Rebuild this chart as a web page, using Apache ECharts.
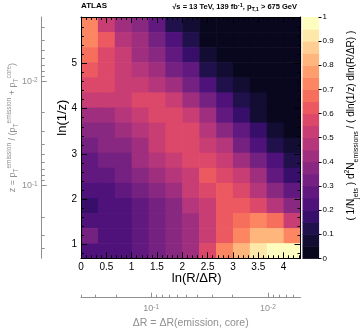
<!DOCTYPE html>
<html><head><meta charset="utf-8">
<script src="https://cdn.jsdelivr.net/npm/echarts@6.0.0/dist/echarts.min.js"></script>
<style>html,body{margin:0;padding:0;background:#fff;}#chart{width:362px;height:328px;}</style>
</head><body><div id="chart"></div>
<script>
// ---- data ----
// ln(R/ΔR) bin edges (13 bins)
const lnRdREdges = [0, 0.3333, 0.6667, 1.0, 1.3333, 1.6667, 2.0, 2.3333, 2.6667, 3.0, 3.3333, 3.6667, 4.0, 4.3333];
// ln(1/z) bin edges (16 bins), from ln 2 upwards
const ln1zEdges = [0.6931, 1.0265, 1.3598, 1.6931, 2.0265, 2.3598, 2.6931, 3.0265, 3.3598, 3.6931, 4.0265, 4.3598, 4.6931, 5.0265, 5.3598, 5.6931, 6.0265];
// normalised emission density, one row per ln(1/z) bin, TOP row (highest ln(1/z)) first,
// columns follow lnRdREdges
const densityRows = [
  [0.72,0.52,0.43,0.36,0.26,0.12,0.06,0.02,0.02,0.02,0.02,0.02,0.02],
  [0.72,0.60,0.48,0.40,0.30,0.20,0.12,0.03,0.02,0.02,0.02,0.02,0.02],
  [0.66,0.59,0.51,0.44,0.36,0.25,0.15,0.06,0.03,0.02,0.02,0.02,0.02],
  [0.60,0.56,0.52,0.47,0.40,0.32,0.26,0.10,0.07,0.02,0.02,0.02,0.02],
  [0.55,0.55,0.53,0.50,0.45,0.40,0.33,0.24,0.12,0.06,0.02,0.02,0.02],
  [0.50,0.50,0.52,0.55,0.58,0.53,0.42,0.30,0.20,0.12,0.06,0.02,0.02],
  [0.40,0.44,0.47,0.52,0.56,0.58,0.50,0.40,0.28,0.16,0.08,0.03,0.02],
  [0.36,0.39,0.43,0.48,0.54,0.58,0.58,0.45,0.38,0.25,0.15,0.08,0.04],
  [0.32,0.35,0.39,0.44,0.51,0.57,0.59,0.53,0.45,0.33,0.22,0.12,0.06],
  [0.28,0.31,0.34,0.40,0.47,0.53,0.57,0.59,0.53,0.42,0.30,0.20,0.10],
  [0.26,0.28,0.31,0.37,0.43,0.48,0.54,0.60,0.59,0.50,0.40,0.28,0.18],
  [0.22,0.24,0.27,0.32,0.38,0.43,0.50,0.57,0.62,0.58,0.49,0.38,0.25],
  [0.19,0.21,0.24,0.29,0.34,0.39,0.46,0.53,0.60,0.64,0.59,0.48,0.35],
  [0.22,0.21,0.22,0.26,0.32,0.37,0.43,0.52,0.60,0.68,0.72,0.66,0.50],
  [0.30,0.23,0.22,0.25,0.30,0.35,0.42,0.52,0.62,0.72,0.80,0.82,0.70],
  [0.21,0.21,0.22,0.25,0.30,0.35,0.42,0.56,0.70,0.84,0.90,0.97,0.98]
];
const xTickLabels = [0, 0.5, 1, 1.5, 2, 2.5, 3, 3.5, 4];
const yTickLabels = [1, 2, 3, 4, 5];
const colorbarLevels = [0,0.05,0.1,0.15,0.2,0.25,0.3,0.35,0.4,0.45,0.5,0.55,0.6,0.65,0.7,0.75,0.8,0.85,0.9,0.95,1];
const colorbarTicks = [0,0.1,0.2,0.3,0.4,0.5,0.6,0.7,0.8,0.9,1];
const zMajorTicks = [0.1, 0.01];
const zMinorTicks = [0.4,0.3,0.2,0.09,0.08,0.07,0.06,0.05,0.04,0.03,0.02,0.009,0.008,0.007,0.006,0.005,0.004,0.003];
const dRMajorTicks = [0.1, 0.01];
const dRMinorTicks = [0.4,0.3,0.2,0.09,0.08,0.07,0.06,0.05,0.04,0.03,0.02,0.009,0.008,0.007,0.006];
const jetRadius = 0.4;

// ---- styling helpers ----
const FONT = 'Liberation Sans, Arial, Helvetica, sans-serif';
const GRAY = '#8f8f8f';
const magmaStops = ['#000004','#0b0924','#150e37','#221150','#3b0f70','#51127c','#641a80','#782281','#8c2981','#a1307e','#b73779','#ca3e72','#de4968','#ed5a5f','#f7705c','#fc8761','#fe9f6d','#feb77e','#fecf92','#fde7a9','#fcfdbf'];
function hex2rgb(h){return [parseInt(h.substr(1,2),16),parseInt(h.substr(3,2),16),parseInt(h.substr(5,2),16)];}
function magma(t){
  const f = Math.max(0, Math.min(1, t)) * 20; const i = Math.min(19, Math.floor(f)); const u = f - i;
  const a = hex2rgb(magmaStops[i]), b = hex2rgb(magmaStops[i+1]);
  return 'rgb(' + a.map((c,k)=>Math.round(c + (b[k]-c)*u)).join(',') + ')';
}
const pieces = [];
for (let k = 0; k < colorbarLevels.length - 1; k++) {
  const p = {gte: colorbarLevels[k], color: magma(0.04 + 0.96 * k / (colorbarLevels.length - 2))};
  if (k === colorbarLevels.length - 2) p.lte = colorbarLevels[k+1]; else p.lt = colorbarLevels[k+1];
  pieces.push(p);
}

const xMin = lnRdREdges[0], xMax = lnRdREdges[lnRdREdges.length-1];
const yMin = ln1zEdges[0], yMax = ln1zEdges[ln1zEdges.length-1];
const xMinor = [], yMinor = [];
for (let k = 1; k * 0.1 < xMax; k++) { if (k % 5) xMinor.push(+(k*0.1).toFixed(2)); }
for (let k = 4; k * 0.2 < yMax; k++) { if (k % 5) yMinor.push(+(k*0.2).toFixed(2)); }
const zPos = z => Math.log(1 / z);
const dRPos = d => Math.log(jetRadius / d);

// cells
const cells = [];
densityRows.forEach((row, r) => {
  const yi = ln1zEdges.length - 2 - r;
  row.forEach((v, c) => cells.push([lnRdREdges[c], lnRdREdges[c+1], ln1zEdges[yi], ln1zEdges[yi+1], v]));
});
const bar = [];
for (let k = 0; k < colorbarLevels.length - 1; k++) {
  bar.push([0, 1, colorbarLevels[k], colorbarLevels[k+1], (colorbarLevels[k] + colorbarLevels[k+1]) / 2]);
}
function renderCell(params, api) {
  const p0 = api.coord([api.value(0), api.value(3)]);
  const p1 = api.coord([api.value(1), api.value(2)]);
  return {type: 'rect', shape: {x: p0[0], y: p0[1], width: p1[0]-p0[0] + 0.6, height: p1[1]-p0[1] + 0.6},
          style: {fill: api.visual('color')}};
}
function expLabel(v) {
  const e = Math.round(Math.log10(Math.exp(-v)));
  return '10{s|' + e + '}';
}
const supRich = {s: {fontSize: 6.5, lineHeight: 7, verticalAlign: 'top', color: GRAY, fontFamily: FONT}};

const noSplit = {show: false};
function tickAxis(base, extra) { return Object.assign({type: 'value', z: 10, splitLine: noSplit, nameMoveOverlap: false}, base, extra); }

const gridMain = {left: 81, top: 17, width: 219.5, height: 241.3, containLabel: false, outerBoundsMode: 'none'};
const gridBar = {left: 302.5, top: 17, width: 16, height: 241.3, containLabel: false, outerBoundsMode: 'none'};
const xBase = {gridIndex: 0, min: xMin, max: xMax};
const yBase = {gridIndex: 0, min: yMin, max: yMax};

const option = {
  animation: false,
  title: [
    {text: 'ATLAS', left: 81, top: 2, padding: 0, textStyle: {fontSize: 8, fontWeight: 'bold', color: '#000', fontFamily: FONT}},
    {text: '√s = 13 TeV, 139 fb{sup|-1}, p{sub|T,1} > 675 GeV', right: 65, top: 2, padding: 0,
     textStyle: {fontSize: 7.5, color: '#000', fontFamily: FONT, lineHeight: 10,
       rich: {sup: {fontSize: 5.5, lineHeight: 5, verticalAlign: 'top'}, sub: {fontSize: 5.5, lineHeight: 5, verticalAlign: 'bottom'}}}}
  ],
  grid: [gridMain, gridBar],
  visualMap: [{type: 'piecewise', show: false, dimension: 4, seriesIndex: [0, 1], pieces: pieces}],
  xAxis: [
    tickAxis(xBase, {position: 'bottom', axisLine: {show: true, onZero: false, lineStyle: {color: '#000', width: 1}},
      axisTick: {show: true, inside: true, length: 6, customValues: xTickLabels, lineStyle: {color: '#000'}},
      axisLabel: {show: true, customValues: xTickLabels, margin: 4, fontSize: 10, color: '#000', fontFamily: FONT},
      name: 'ln(R/ΔR)', nameLocation: 'middle', nameGap: 14,
      nameTextStyle: {fontSize: 13, color: '#000', fontFamily: FONT, padding: [0, 0, 0, 12]}}),
    tickAxis(xBase, {position: 'bottom', axisLine: {show: false, onZero: false},
      axisTick: {show: true, inside: true, length: 3, customValues: xMinor, lineStyle: {color: '#000'}}, axisLabel: {show: false}}),
    tickAxis(xBase, {position: 'top', axisLine: {show: true, onZero: false, lineStyle: {color: '#000'}},
      axisTick: {show: true, inside: true, length: 6, customValues: xTickLabels, lineStyle: {color: '#000'}}, axisLabel: {show: false}}),
    tickAxis(xBase, {position: 'top', axisLine: {show: false, onZero: false},
      axisTick: {show: true, inside: true, length: 3, customValues: xMinor, lineStyle: {color: '#000'}}, axisLabel: {show: false}}),
    tickAxis(xBase, {position: 'bottom', offset: 39.4, axisLine: {show: true, onZero: false, lineStyle: {color: GRAY}},
      axisTick: {show: true, inside: true, length: 5, customValues: dRMajorTicks.map(dRPos), lineStyle: {color: GRAY}},
      axisLabel: {show: true, customValues: dRMajorTicks.map(dRPos), margin: 6, fontSize: 9, color: GRAY, fontFamily: FONT,
        formatter: v => '10{s|' + Math.round(Math.log10(jetRadius * Math.exp(-v))) + '}', rich: supRich},
      name: 'ΔR = ΔR(emission, core)', nameLocation: 'middle', nameGap: 20,
      nameTextStyle: {fontSize: 10.5, color: GRAY, fontFamily: FONT}}),
    tickAxis(xBase, {position: 'bottom', offset: 39.4, axisLine: {show: false, onZero: false},
      axisTick: {show: true, inside: true, length: 3, customValues: dRMinorTicks.map(dRPos), lineStyle: {color: GRAY}}, axisLabel: {show: false}}),
    {type: 'value', gridIndex: 1, min: 0, max: 1, show: false}
  ],
  yAxis: [
    tickAxis(yBase, {position: 'left', axisLine: {show: true, onZero: false, lineStyle: {color: '#000'}},
      axisTick: {show: true, inside: true, length: 6, customValues: yTickLabels, lineStyle: {color: '#000'}},
      axisLabel: {show: true, customValues: yTickLabels, margin: 4, fontSize: 10, color: '#000', fontFamily: FONT},
      name: 'ln(1/z)', nameLocation: 'middle', nameRotate: 90, nameGap: 12,
      nameTextStyle: {fontSize: 13, color: '#000', fontFamily: FONT, padding: [0, 0, 0, 40]}}),
    tickAxis(yBase, {position: 'left', axisLine: {show: false, onZero: false},
      axisTick: {show: true, inside: true, length: 3, customValues: yMinor, lineStyle: {color: '#000'}}, axisLabel: {show: false}}),
    tickAxis(yBase, {position: 'right', axisLine: {show: true, onZero: false, lineStyle: {color: '#000'}},
      axisTick: {show: true, inside: true, length: 6, customValues: yTickLabels, lineStyle: {color: '#000'}}, axisLabel: {show: false}}),
    tickAxis(yBase, {position: 'right', axisLine: {show: false, onZero: false},
      axisTick: {show: true, inside: true, length: 3, customValues: yMinor, lineStyle: {color: '#000'}}, axisLabel: {show: false}}),
    tickAxis(yBase, {position: 'left', offset: 39.3, axisLine: {show: true, onZero: false, lineStyle: {color: GRAY}},
      axisTick: {show: true, inside: true, length: 5, customValues: zMajorTicks.map(zPos), lineStyle: {color: GRAY}},
      axisLabel: {show: true, customValues: zMajorTicks.map(zPos), margin: 4, fontSize: 9, color: GRAY, fontFamily: FONT,
        formatter: expLabel, rich: supRich},
      name: 'z = p{sub|T}{sup|emission} / (p{sub|T}{sup|emission} + p{sub|T}{sup|core})', nameLocation: 'middle', nameRotate: 90, nameGap: 22,
      nameTextStyle: {fontSize: 9, color: GRAY, fontFamily: FONT, lineHeight: 14, padding: [0, 0, 0, 20],
        rich: {sup: {fontSize: 6.5, lineHeight: 7, verticalAlign: 'top', color: GRAY}, sub: {fontSize: 6.5, lineHeight: 7, verticalAlign: 'bottom', color: GRAY}}}}),
    tickAxis(yBase, {position: 'left', offset: 39.3, axisLine: {show: false, onZero: false},
      axisTick: {show: true, inside: true, length: 3, customValues: zMinorTicks.map(zPos), lineStyle: {color: GRAY}}, axisLabel: {show: false}}),
    {type: 'value', gridIndex: 1, min: 0, max: 1, position: 'right', z: 10, splitLine: noSplit, nameMoveOverlap: false,
      axisLine: {show: false, onZero: false},
      axisTick: {show: true, inside: false, length: 3, customValues: colorbarTicks, lineStyle: {color: '#000'}},
      axisLabel: {show: true, customValues: colorbarTicks, margin: 4, fontSize: 8, color: '#000', fontFamily: FONT},
      name: '( 1/N{sub|jets} ) d{sup|2}N{sub|emissions} / ( dln(1/z) dln(R/ΔR) )', nameLocation: 'middle', nameRotate: 90, nameGap: 25,
      nameTextStyle: {fontSize: 10, color: '#000', fontFamily: FONT, lineHeight: 16, padding: [0, 0, 0, 24],
        rich: {sup: {fontSize: 7, lineHeight: 8, verticalAlign: 'top'}, sub: {fontSize: 7, lineHeight: 8, verticalAlign: 'bottom'}}}}
  ],
  series: [
    {type: 'custom', xAxisIndex: 0, yAxisIndex: 0, renderItem: renderCell, data: cells, encode: {x: [0, 1], y: [2, 3]}, z: 2},
    {type: 'custom', xAxisIndex: 6, yAxisIndex: 6, renderItem: renderCell, data: bar, encode: {x: [0, 1], y: [2, 3]}, z: 2}
  ]
};
const chart = echarts.init(document.getElementById('chart'), null, {renderer: 'canvas'});
chart.setOption(option);
</script>
</body></html>
